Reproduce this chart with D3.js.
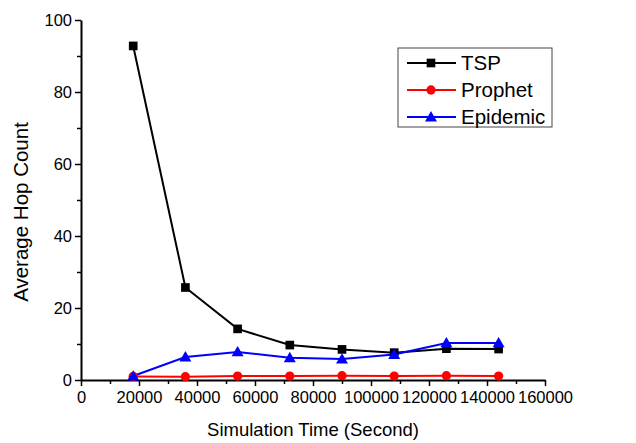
<!DOCTYPE html>
<html>
<head>
<meta charset="utf-8">
<script src="https://cdn.jsdelivr.net/npm/d3@7"></script>
<style>
body { margin: 0; background: #fff; }
text { font-family: "Liberation Sans", Arial, sans-serif; fill: #000; }
</style>
</head>
<body>
<script>
var times = [18000, 36000, 54000, 72000, 90000, 108000, 126000, 144000];
var tsp = [92.8, 25.7, 14.2, 9.7, 8.5, 7.6, 8.7, 8.6];
var prophet = [1.0, 0.9, 1.1, 1.1, 1.2, 1.1, 1.2, 1.1];
var epidemic = [1.1, 6.4, 7.8, 6.2, 5.8, 7.1, 10.3, 10.3];
var seriesNames = ["TSP", "Prophet", "Epidemic"];
var seriesColors = ["#000000", "#ff0000", "#0000ff"];
var xTicks = [0, 20000, 40000, 60000, 80000, 100000, 120000, 140000, 160000];
var yTicks = [0, 20, 40, 60, 80, 100];

var width = 636, height = 443;
var svg = d3.select("body").append("svg")
    .attr("width", width)
    .attr("height", height);

var x = d3.scaleLinear().domain([0, 160000]).range([81, 545]);
var y = d3.scaleLinear().domain([0, 100]).range([380, 20]);

// minor ticks first
svg.append("g")
    .attr("transform", "translate(0," + y(0) + ")")
    .call(d3.axisBottom(x).tickValues(d3.range(10000, 160000, 20000)).tickSize(4).tickFormat(""))
    .call(function(g) { g.select(".domain").remove(); g.selectAll("line").attr("stroke-width", 1.5); });
svg.append("g")
    .attr("transform", "translate(" + x(0) + ",0)")
    .call(d3.axisLeft(y).tickValues(d3.range(10, 100, 20)).tickSize(4).tickFormat(""))
    .call(function(g) { g.select(".domain").remove(); g.selectAll("line").attr("stroke-width", 1.5); });

var xAxis = svg.append("g")
    .attr("transform", "translate(0," + y(0) + ")")
    .call(d3.axisBottom(x).tickValues(xTicks).tickSize(6).tickSizeOuter(0).tickPadding(5).tickFormat(d3.format("d")));
var yAxis = svg.append("g")
    .attr("transform", "translate(" + x(0) + ",0)")
    .call(d3.axisLeft(y).tickValues(yTicks).tickSize(6).tickSizeOuter(0).tickPadding(3));

[xAxis, yAxis].forEach(function(g) {
  g.select(".domain").attr("stroke-width", 2);
  g.selectAll("line").attr("stroke-width", 1.5);
  g.selectAll("text").style("font-size", "16.5px").attr("font-family", null);
});

svg.append("text")
    .attr("x", 313).attr("y", 436)
    .attr("text-anchor", "middle")
    .style("font-size", "18.5px")
    .text("Simulation Time (Second)");
svg.append("text")
    .attr("transform", "translate(28,212) rotate(-90)")
    .attr("text-anchor", "middle")
    .style("font-size", "20.5px")
    .text("Average Hop Count");

var allSeries = [tsp, prophet, epidemic];
var line = d3.line()
    .x(function(d, i) { return x(times[i]); })
    .y(function(d) { return y(d); });

var symbols = [d3.symbolSquare, d3.symbolCircle, d3.symbolTriangle];
var symSizes = [75, 68, 62];

allSeries.forEach(function(vals, s) {
  svg.append("path")
      .datum(vals)
      .attr("fill", "none")
      .attr("stroke", seriesColors[s])
      .attr("stroke-width", 2)
      .attr("d", line);
});
allSeries.forEach(function(vals, s) {
  svg.selectAll(".m" + s)
      .data(vals)
      .enter().append("path")
      .attr("class", "m" + s)
      .attr("transform", function(d, i) { return "translate(" + x(times[i]) + "," + (y(d) + (s == 2 ? 1 : 0)) + ")"; })
      .attr("d", d3.symbol().type(symbols[s]).size(symSizes[s]))
      .attr("fill", seriesColors[s]);
});

// legend
var legend = svg.append("g").attr("transform", "translate(398,48)");
legend.append("rect")
    .attr("width", 154).attr("height", 79)
    .attr("fill", "#fff").attr("stroke", "#444").attr("stroke-width", 1);
seriesNames.forEach(function(name, s) {
  var ly = 15 + s * 27;
  legend.append("line")
      .attr("x1", 9).attr("x2", 58).attr("y1", ly).attr("y2", ly)
      .attr("stroke", seriesColors[s]).attr("stroke-width", 2);
  legend.append("path")
      .attr("transform", "translate(33," + (ly + (s == 2 ? 1 : 0)) + ")")
      .attr("d", d3.symbol().type(symbols[s]).size(symSizes[s]))
      .attr("fill", seriesColors[s]);
  legend.append("text")
      .attr("x", 63).attr("y", ly + 7)
      .style("font-size", "20.5px")
      .text(name);
});
</script>
</body>
</html>
